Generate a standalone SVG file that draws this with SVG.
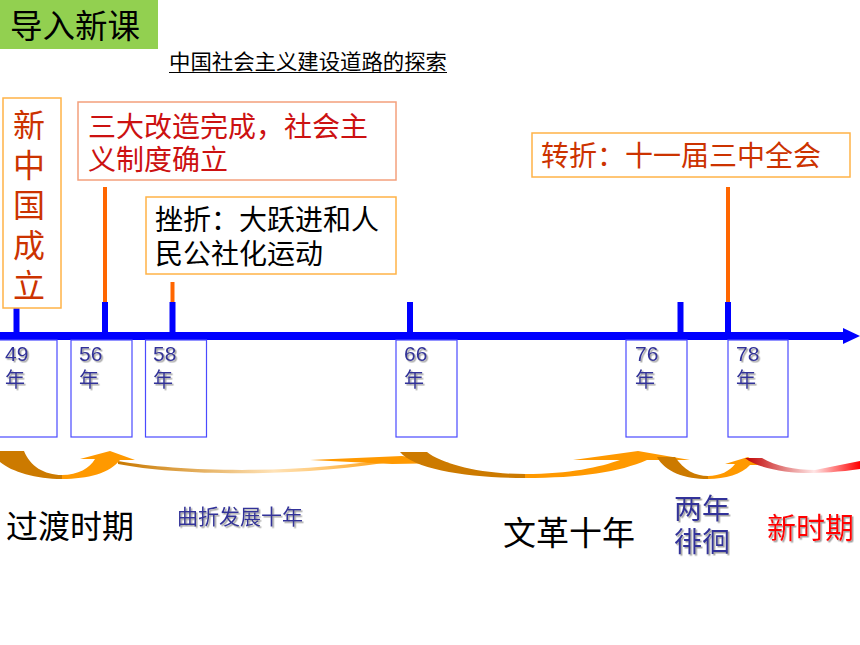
<svg xmlns="http://www.w3.org/2000/svg" width="860" height="645" viewBox="0 0 860 645">
<defs>
<style>
.cjk{font-family:"Noto Sans CJK SC","Liberation Sans",sans-serif;}
.yr{font-family:"Liberation Sans","Noto Sans CJK SC",sans-serif;font-size:21px;fill:#333399;}
.box{fill:#fff;stroke:#FFB347;stroke-width:1.5;}
.ybox{fill:none;stroke:#4A4AFF;stroke-width:1.2;}
.tick{stroke:#0000FF;stroke-width:6;}
.lead{stroke:#FF6600;stroke-width:4;}
.dark{fill:#CC7A00;}
.light{fill:#FF9900;}
</style>
<filter id="sh" x="-20%" y="-20%" width="140%" height="140%">
<feDropShadow dx="1.5" dy="1.5" stdDeviation="0.7" flood-color="#9a9a9a" flood-opacity="0.9"/>
</filter>
<linearGradient id="gOr" x1="0" y1="0" x2="1" y2="0">
<stop offset="0" stop-color="#C87800"/>
<stop offset="0.55" stop-color="#FFE3B8"/>
<stop offset="1" stop-color="#FF9900"/>
</linearGradient>
<linearGradient id="gRed" x1="0" y1="0" x2="1" y2="0">
<stop offset="0" stop-color="#C00000"/>
<stop offset="0.6" stop-color="#FFE6E6"/>
<stop offset="1" stop-color="#FF0000"/>
</linearGradient>
</defs>
<rect width="860" height="645" fill="#fff"/>

<g id="header">
<rect x="0" y="0" width="158" height="49" fill="#92D050"/>
<text class="cjk" x="10" y="38" font-size="32.5" fill="#000">导入新课</text>
</g>
<g id="subtitle">
<text class="cjk" x="169" y="69" font-size="21" fill="#000" textLength="278" lengthAdjust="spacingAndGlyphs">中国社会主义建设道路的探索</text>
<line x1="169" y1="72.5" x2="447" y2="72.5" stroke="#000" stroke-width="1"/>
</g>

<g id="connectors">
<line class="lead" x1="105" y1="187" x2="105" y2="303"/>
<line class="lead" x1="172.5" y1="282" x2="172.5" y2="303"/>
<line class="lead" x1="728" y1="187" x2="728" y2="303"/>
<line class="tick" x1="16.5" y1="308" x2="16.5" y2="334"/>
<line class="tick" x1="105" y1="302" x2="105" y2="334"/>
<line class="tick" x1="172.5" y1="302" x2="172.5" y2="334"/>
<line class="tick" x1="410" y1="302" x2="410" y2="334"/>
<line class="tick" x1="680.5" y1="302" x2="680.5" y2="334"/>
<line class="tick" x1="728" y1="302" x2="728" y2="334"/>
<rect x="0" y="332" width="845" height="8" fill="#0000FF"/>
<polygon points="843,328 860,336 843,344" fill="#0000FF"/>
</g>

<g id="node-1949">
<rect class="box" x="3" y="98" width="58" height="210"/>
<text class="cjk" font-size="32" fill="#CC3300" text-anchor="middle"><tspan x="29" y="137">新</tspan><tspan x="29" y="177">中</tspan><tspan x="29" y="217">国</tspan><tspan x="29" y="257">成</tspan><tspan x="29" y="297">立</tspan></text>
</g>

<g id="node-1956">
<rect x="78" y="102" width="318" height="78" fill="#fff" stroke="#F4A07C" stroke-width="1.5"/>
<text class="cjk" font-size="28" fill="#CC1111"><tspan x="88" y="137">三大改造完成，社会主</tspan><tspan x="88" y="170">义制度确立</tspan></text>
</g>

<g id="node-1958">
<rect class="box" x="146" y="197" width="250" height="77"/>
<text class="cjk" font-size="28" fill="#000"><tspan x="155" y="230">挫折：大跃进和人</tspan><tspan x="155" y="264">民公社化运动</tspan></text>
</g>

<g id="node-1978">
<rect class="box" x="532" y="133" width="318" height="44"/>
<text class="cjk" x="541" y="166" font-size="28" fill="#CC3300">转折：十一届三中全会</text>
</g>

<g id="year-49">
<rect class="ybox" x="-1" y="340" width="58" height="97"/>
<text class="yr" x="5" y="361" filter="url(#sh)">49</text>
<text class="cjk" x="5" y="387" font-size="20" fill="#333399" filter="url(#sh)">年</text>
</g>
<g id="year-56">
<rect class="ybox" x="71" y="340" width="61" height="97"/>
<text class="yr" x="79" y="361" filter="url(#sh)">56</text>
<text class="cjk" x="79" y="387" font-size="20" fill="#333399" filter="url(#sh)">年</text>
</g>
<g id="year-58">
<rect class="ybox" x="145.5" y="340" width="61" height="97"/>
<text class="yr" x="153" y="361" filter="url(#sh)">58</text>
<text class="cjk" x="153" y="387" font-size="20" fill="#333399" filter="url(#sh)">年</text>
</g>
<g id="year-66">
<rect class="ybox" x="396" y="340" width="61" height="97"/>
<text class="yr" x="404" y="361" filter="url(#sh)">66</text>
<text class="cjk" x="404" y="387" font-size="20" fill="#333399" filter="url(#sh)">年</text>
</g>
<g id="year-76">
<rect class="ybox" x="626" y="340" width="61" height="97"/>
<text class="yr" x="635" y="361" filter="url(#sh)">76</text>
<text class="cjk" x="635" y="387" font-size="20" fill="#333399" filter="url(#sh)">年</text>
</g>
<g id="year-78">
<rect class="ybox" x="728" y="340" width="60" height="97"/>
<text class="yr" x="736" y="361" filter="url(#sh)">78</text>
<text class="cjk" x="736" y="387" font-size="20" fill="#333399" filter="url(#sh)">年</text>
</g>

<g id="period-arrows">
<path d="M118,461 C180,472 300,475 400,457 L402,460 C300,478 180,476 118,464 Z" fill="url(#gOr)"/>
<path d="M310,460 L402,456 L450,463 L392,464 Z" fill="#FF9900"/>
<path class="dark" d="M0,451 L24,451 C30,466 44,475 62,475 L62,479 C36,479 12,472 0,462 Z"/>
<path class="light" d="M62,475 C78,475 90,468 95,459 L80,459 L110,451 L135,460 L120,460 C110,473 88,479 62,479 Z"/>
<path class="dark" d="M400,452 L427,452 C442,464 480,474 525,474 L525,478 C470,478 415,470 400,452 Z"/>
<path class="light" d="M525,474 C570,474 600,467 620,460 L573,460 L638,451 L690,460 L647,460 C620,472 580,478 525,478 Z"/>
<path class="dark" d="M657,457 L675,457 C684,470 695,476 708,476 L708,479 C685,479 665,472 657,457 Z"/>
<path class="light" d="M708,476 C720,476 730,471 735,464 L725,464 L748,457 L760,465 L750,465 C742,474 725,479 708,479 Z"/>
<path d="M745,458 L762,458 C775,466 795,470 815,470 L860,461 L860,469 C840,472 820,473 810,473 C785,473 757,468 745,458 Z" fill="url(#gRed)"/>
</g>

<g id="label-transition"><text class="cjk" x="6" y="538" font-size="32" fill="#000">过渡时期</text></g>
<g id="label-zigzag"><text class="cjk" x="177" y="524" font-size="21" fill="#333399" filter="url(#sh)">曲折发展十年</text></g>
<g id="label-culturalrev"><text class="cjk" x="503" y="545" font-size="33" fill="#000">文革十年</text></g>
<g id="label-hesitation">
<text class="cjk" font-size="28" fill="#333399" filter="url(#sh)"><tspan x="674" y="519">两年</tspan><tspan x="674" y="552">徘徊</tspan></text>
</g>
<g id="label-newera"><text class="cjk" x="767" y="539" font-size="29" fill="#FF0000" filter="url(#sh)">新时期</text></g>
</svg>
